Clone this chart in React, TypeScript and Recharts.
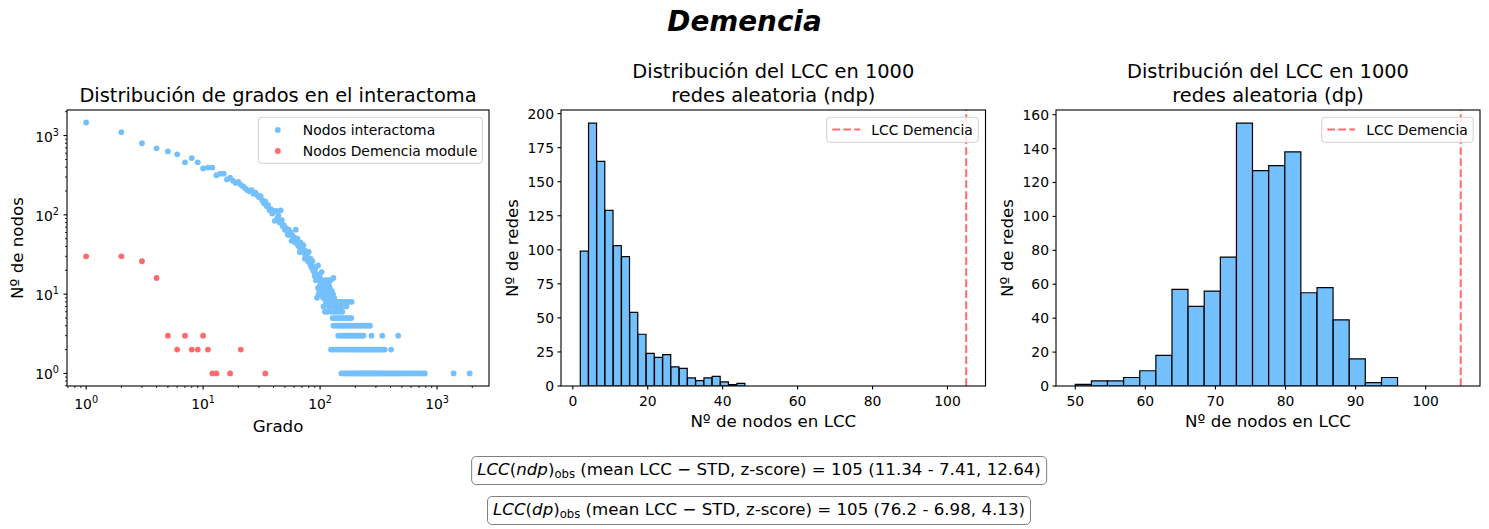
import React from 'react';
import { ScatterChart, Scatter, XAxis, YAxis, ComposedChart, Bar, ReferenceLine } from 'recharts';

const FONT = '"DejaVu Sans", "Liberation Sans", sans-serif';
const BLUE = '#74c0fc';
const RED = '#ff6b6b';

// ---------- Data: degree distribution (degree, number of nodes) ----------
const interactomaCurve: [number, number][] = [
  [1, 1460], [2, 1100], [3, 800], [4, 690], [5, 630], [6, 580], [7, 460], [8, 520], [9, 460], [10, 385],
  [11, 395], [12, 395], [13, 316], [14, 331], [15, 331], [16, 280], [17, 294], [18, 270], [19, 253], [20, 261],
  [21, 239], [22, 228], [23, 215], [24, 205], [25, 198], [26, 205], [27, 185], [28, 190], [29, 177], [30, 168],
  [31, 172], [32, 153], [33, 140], [34, 148], [35, 128], [36, 133], [37, 114], [38, 118], [39, 104], [40, 112],
  [41, 84], [42, 112], [43, 90], [44, 98], [45, 80], [46, 114], [47, 86], [48, 72], [49, 74], [50, 65],
  [51, 68], [52, 63], [53, 56], [54, 65], [55, 56], [56, 60], [57, 47], [58, 55], [59, 48], [60, 52],
  [61, 45], [62, 65], [63, 44], [64, 50], [65, 41], [66, 40], [67, 34], [68, 45], [69, 38], [70, 36],
  [71, 42], [72, 41], [73, 33], [74, 28], [75, 35], [76, 31], [77, 30], [78, 34], [79, 26], [80, 34],
  [81, 27], [82, 24], [83, 28], [84, 22], [85, 23], [86, 26], [87, 20], [88, 22], [89, 19], [90, 17],
  [91, 21], [92, 15], [93, 18], [95, 16], [96, 23], [99, 17], [103, 19], [130, 16],
];

// degrees sharing the same small node count (horizontal rows in the plot)
const interactomaRows: [number, number[]][] = [
  [15, [98, 104, 111, 117, 123]],
  [14, [101, 108, 114]],
  [13, [100, 106, 112, 119]],
  [12, [96, 103, 110, 121]],
  [11, [99, 105, 113, 126]],
  [10, [97, 102, 108, 114, 119, 124, 129]],
  [9, [94, 106, 111, 117, 122, 132]],
  [8, [112, 118, 124, 129, 135, 141, 148, 155, 162, 171, 178, 186]],
  [7, [107, 119, 131, 140, 152, 168]],
  [6, [110, 116, 125, 133, 140, 147, 155]],
  [5, [128, 134, 139, 145, 151, 158, 164, 171, 178, 185]],
  [4, [130, 136, 142, 148, 155, 161, 168, 175, 182, 190, 198, 206, 215, 225, 235, 245, 256, 267]],
  [3, [143, 149, 156, 162, 168, 175, 181, 188, 196, 203, 211, 219, 227, 235, 275, 340, 465]],
  [2, [124, 130, 137, 143, 150, 158, 166, 172, 180, 187, 195, 203, 212, 220, 229, 238, 247, 256, 265, 275,
    285, 296, 308, 320, 332, 345, 357, 405]],
  [1, [152, 160, 166, 172, 178, 185, 191, 197, 204, 210, 216, 223, 230, 236, 242, 249, 256, 263, 270, 278,
    286, 294, 302, 311, 320, 330, 340, 350, 362, 375, 388, 400, 414, 428, 442, 457, 472, 490, 510, 532,
    556, 585, 612, 640, 668, 700, 735, 765, 785, 1385, 1900]],
];

const demenciaPoints: [number, number][] = [
  [1, 30], [2, 30], [3, 26], [4, 16], [5, 3], [6, 2], [7, 3], [8, 2], [9, 2], [10, 3],
  [11, 2], [12, 1], [13, 1], [17, 1], [21, 2], [34, 1],
];

// ---------- Data: LCC histograms ----------
const ndpBinCenters = [3.1, 5.3, 7.5, 9.7, 11.9, 14.1, 16.3, 18.5, 20.7, 22.9, 25.1, 27.3, 29.5, 31.7, 33.9, 36.1, 38.3, 40.5, 42.7, 44.9];
const ndpCounts = [99, 193, 165, 129, 103, 95, 54, 38, 24, 21, 23, 14, 13, 6, 4, 6, 7, 3, 1, 2];
const dpBinCenters = [51.15, 53.45, 55.75, 58.05, 60.35, 62.65, 64.95, 67.25, 69.55, 71.85, 74.15, 76.45, 78.75, 81.05, 83.35, 85.65, 87.95, 90.25, 92.55, 94.85];
const dpCounts = [1, 3, 3, 5, 9, 18, 57, 47, 56, 76, 155, 127, 130, 138, 55, 58, 39, 16, 2, 5];
const LCC_OBS = 105;

const logTicks = [0.7, 0.8, 0.9, 1, 2, 3, 4, 5, 6, 7, 8, 9, 10, 20, 30, 40, 50, 60, 70, 80, 90,
  100, 200, 300, 400, 500, 600, 700, 800, 900, 1000, 2000];
const ndpXTicks = [0, 20, 40, 60, 80, 100];
const ndpYTicks = [0, 25, 50, 75, 100, 125, 150, 175, 200];
const dpXTicks = [50, 60, 70, 80, 90, 100];
const dpYTicks = [0, 20, 40, 60, 80, 100, 120, 140, 160];

const interactomaData = [
  ...interactomaCurve.map(([x, y]) => ({ x, y })),
  ...interactomaRows.flatMap(([count, degs]) => degs.map((d) => ({ x: d, y: count }))),
];
const demenciaData = demenciaPoints.map(([x, y]) => ({ x, y }));
const ndpData = ndpBinCenters.map((x, i) => ({ x, count: ndpCounts[i] }));
const dpData = dpBinCenters.map((x, i) => ({ x, count: dpCounts[i] }));

// ---------- Layout ----------
const PT = 110;
const PH = 276;
const YW = 70;
const MT = 10;
const MR = 10;
const XH = 40;
const TICK_FS = 13.9;

const isMajor = (v: number) => {
  const e = Math.round(Math.log10(v));
  return Math.abs(v / Math.pow(10, e) - 1) < 1e-6;
};

const LogXTick = (props: any) => {
  const { x, y, payload } = props;
  const v = payload.value;
  const major = isMajor(v);
  const e = Math.round(Math.log10(v));
  return (
    <g>
      <line x1={x} x2={x} y1={y} y2={y + (major ? 3.5 : 2)} stroke="#000" strokeWidth={major ? 1.1 : 0.85} />
      {major && (
        <text x={x} y={y + 23} textAnchor="middle" fontFamily={FONT} fontSize={TICK_FS} fill="#000">
          10<tspan dy={-6} fontSize={9.7}>{e}</tspan>
        </text>
      )}
    </g>
  );
};

const LogYTick = (props: any) => {
  const { x, y, payload } = props;
  const v = payload.value;
  const major = isMajor(v);
  const e = Math.round(Math.log10(v));
  return (
    <g>
      <line x1={x} x2={x - (major ? 3.5 : 2)} y1={y} y2={y} stroke="#000" strokeWidth={major ? 1.1 : 0.85} />
      {major && (
        <text x={x - 8} y={y + 6} textAnchor="end" fontFamily={FONT} fontSize={TICK_FS} fill="#000">
          10<tspan dy={-6} fontSize={9.7}>{e}</tspan>
        </text>
      )}
    </g>
  );
};

const LinXTick = (props: any) => {
  const { x, y, payload } = props;
  return (
    <g>
      <line x1={x} x2={x} y1={y} y2={y + 3.5} stroke="#000" strokeWidth={1.1} />
      <text x={x} y={y + 20} textAnchor="middle" fontFamily={FONT} fontSize={TICK_FS} fill="#000">
        {payload.value}
      </text>
    </g>
  );
};

const LinYTick = (props: any) => {
  const { x, y, payload } = props;
  return (
    <g>
      <line x1={x} x2={x - 3.5} y1={y} y2={y} stroke="#000" strokeWidth={1.1} />
      <text x={x - 7} y={y + 5} textAnchor="end" fontFamily={FONT} fontSize={TICK_FS} fill="#000">
        {payload.value}
      </text>
    </g>
  );
};

const dot = (color: string) => (p: any) => <circle cx={p.cx} cy={p.cy} r={2.9} fill={color} />;

const panels = [
  { left: 67, width: 422 },
  { left: 561, width: 424.5 },
  { left: 1056, width: 424 },
];

function Histogram({ data, xDomain, xTicks, yDomain, yTicks, plotLeft, plotWidth }: any) {
  return (
    <div style={{ position: 'absolute', left: plotLeft - YW, top: PT - MT }}>
      <ComposedChart
        width={YW + plotWidth + MR}
        height={MT + PH + XH}
        data={data}
        margin={{ top: MT, right: MR, bottom: 0, left: 0 }}
        barCategoryGap={0}
        barGap={0}
      >
        <XAxis
          dataKey="x"
          type="number"
          domain={xDomain}
          allowDataOverflow
          ticks={xTicks}
          interval={0}
          height={XH}
          axisLine={false}
          tickLine={false}
          tickSize={0}
          tickMargin={0}
          tick={<LinXTick />}
        />
        <YAxis
          type="number"
          domain={yDomain}
          allowDataOverflow
          ticks={yTicks}
          interval={0}
          width={YW}
          axisLine={false}
          tickLine={false}
          tickSize={0}
          tickMargin={0}
          tick={<LinYTick />}
        />
        <Bar dataKey="count" fill={BLUE} stroke="#000" strokeWidth={1.2} isAnimationActive={false} />
        <ReferenceLine x={LCC_OBS} stroke={RED} strokeWidth={2} strokeDasharray="7.7 3.3" />
      </ComposedChart>
    </div>
  );
}

function DashLegend({ x }: { x: number }) {
  return (
    <g>
      <rect x={x} y={117.3} width={151.5} height={25} rx={3} fill="#fff" fillOpacity={0.8} stroke="#d0d0d0" strokeWidth={1} />
      <line x1={x + 5.6} x2={x + 33.4} y1={129.6} y2={129.6} stroke={RED} strokeWidth={2} strokeDasharray="7.7 3.3" />
      <text x={x + 44.5} y={134.6} fontFamily={FONT} fontSize={TICK_FS} fill="#000">LCC Demencia</text>
    </g>
  );
}

const boxStyle: React.CSSProperties = {
  position: 'absolute',
  left: 759,
  transform: 'translateX(-50%)',
  whiteSpace: 'nowrap',
  border: '1px solid #808080',
  borderRadius: 5,
  padding: '2px 5px',
  fontSize: 16.67,
  lineHeight: '21px',
  background: '#fff',
  fontFamily: FONT,
  color: '#000',
};
const subStyle: React.CSSProperties = { fontSize: '0.7em', position: 'relative', top: '0.25em' };

export default function App() {
  const titleFS = 19.4;
  const labelFS = 16.67;
  return (
    <div style={{ position: 'absolute', left: 0, top: 0, width: 1489, height: 529, background: '#fff', overflow: 'hidden' }}>
      {/* Left: degree distribution */}
      <div style={{ position: 'absolute', left: panels[0].left - YW, top: PT - MT }}>
        <ScatterChart
          width={YW + panels[0].width + MR}
          height={MT + PH + XH}
          margin={{ top: MT, right: MR, bottom: 0, left: 0 }}
        >
          <XAxis
            dataKey="x"
            type="number"
            scale="log"
            domain={[0.686, 2780]}
            allowDataOverflow
            ticks={logTicks}
            interval={0}
            height={XH}
            axisLine={false}
            tickLine={false}
            tickSize={0}
            tickMargin={0}
            tick={<LogXTick />}
          />
          <YAxis
            dataKey="y"
            type="number"
            scale="log"
            domain={[0.695, 2100]}
            allowDataOverflow
            ticks={logTicks}
            interval={0}
            width={YW}
            axisLine={false}
            tickLine={false}
            tickSize={0}
            tickMargin={0}
            tick={<LogYTick />}
          />
          <Scatter name="Nodos interactoma" data={interactomaData} fill={BLUE} shape={dot(BLUE)} isAnimationActive={false} />
          <Scatter name="Nodos Demencia module" data={demenciaData} fill={RED} shape={dot(RED)} isAnimationActive={false} />
        </ScatterChart>
      </div>

      <Histogram
        data={ndpData}
        xDomain={[-3.15, 110.15]}
        xTicks={ndpXTicks}
        yDomain={[0, 202.65]}
        yTicks={ndpYTicks}
        plotLeft={panels[1].left}
        plotWidth={panels[1].width}
      />
      <Histogram
        data={dpData}
        xDomain={[47.25, 107.75]}
        xTicks={dpXTicks}
        yDomain={[0, 162.75]}
        yTicks={dpYTicks}
        plotLeft={panels[2].left}
        plotWidth={panels[2].width}
      />

      {/* Overlay: frames, titles, labels, legends */}
      <svg width={1489} height={529} style={{ position: 'absolute', left: 0, top: 0, pointerEvents: 'none' }}>
        {panels.map((p, i) => (
          <rect key={i} x={p.left} y={PT} width={p.width} height={PH} fill="none" stroke="#000" strokeWidth={1.1} />
        ))}
        <text x={744.5} y={31} textAnchor="middle" fontFamily={FONT} fontSize={27.8} fontWeight="bold" fontStyle="italic" fill="#000">
          Demencia
        </text>

        <text x={278} y={101.7} textAnchor="middle" fontFamily={FONT} fontSize={titleFS} fill="#000">
          Distribución de grados en el interactoma
        </text>
        <text x={773.3} y={78.4} textAnchor="middle" fontFamily={FONT} fontSize={titleFS} fill="#000">
          Distribución del LCC en 1000
        </text>
        <text x={773.3} y={101.7} textAnchor="middle" fontFamily={FONT} fontSize={titleFS} fill="#000">
          redes aleatoria (ndp)
        </text>
        <text x={1268} y={78.4} textAnchor="middle" fontFamily={FONT} fontSize={titleFS} fill="#000">
          Distribución del LCC en 1000
        </text>
        <text x={1268} y={101.7} textAnchor="middle" fontFamily={FONT} fontSize={titleFS} fill="#000">
          redes aleatoria (dp)
        </text>

        <text x={278} y={432} textAnchor="middle" fontFamily={FONT} fontSize={labelFS} fill="#000">Grado</text>
        <text x={773.3} y={427} textAnchor="middle" fontFamily={FONT} fontSize={labelFS} fill="#000">Nº de nodos en LCC</text>
        <text x={1268} y={427} textAnchor="middle" fontFamily={FONT} fontSize={labelFS} fill="#000">Nº de nodos en LCC</text>

        <text transform="translate(23,248) rotate(-90)" textAnchor="middle" fontFamily={FONT} fontSize={labelFS} fill="#000">Nº de nodos</text>
        <text transform="translate(518,248) rotate(-90)" textAnchor="middle" fontFamily={FONT} fontSize={labelFS} fill="#000">Nº de redes</text>
        <text transform="translate(1013,248) rotate(-90)" textAnchor="middle" fontFamily={FONT} fontSize={labelFS} fill="#000">Nº de redes</text>

        {/* left legend */}
        <rect x={258.3} y={117.3} width={224} height={46} rx={3} fill="#fff" fillOpacity={0.8} stroke="#d0d0d0" strokeWidth={1} />
        <circle cx={277.8} cy={130} r={2.9} fill={BLUE} />
        <circle cx={277.8} cy={151} r={2.9} fill={RED} />
        <text x={302.8} y={135} fontFamily={FONT} fontSize={TICK_FS} fill="#000">Nodos interactoma</text>
        <text x={302.8} y={156} fontFamily={FONT} fontSize={TICK_FS} fill="#000">Nodos Demencia module</text>

        <DashLegend x={826.7} />
        <DashLegend x={1321.7} />
      </svg>

      <div style={{ ...boxStyle, top: 456 }}>
        <i>LCC</i>(<i>ndp</i>)<span style={subStyle}>obs</span> (mean LCC − STD, z-score) = 105 (11.34 - 7.41, 12.64)
      </div>
      <div style={{ ...boxStyle, top: 496 }}>
        <i>LCC</i>(<i>dp</i>)<span style={subStyle}>obs</span> (mean LCC − STD, z-score) = 105 (76.2 - 6.98, 4.13)
      </div>
    </div>
  );
}
